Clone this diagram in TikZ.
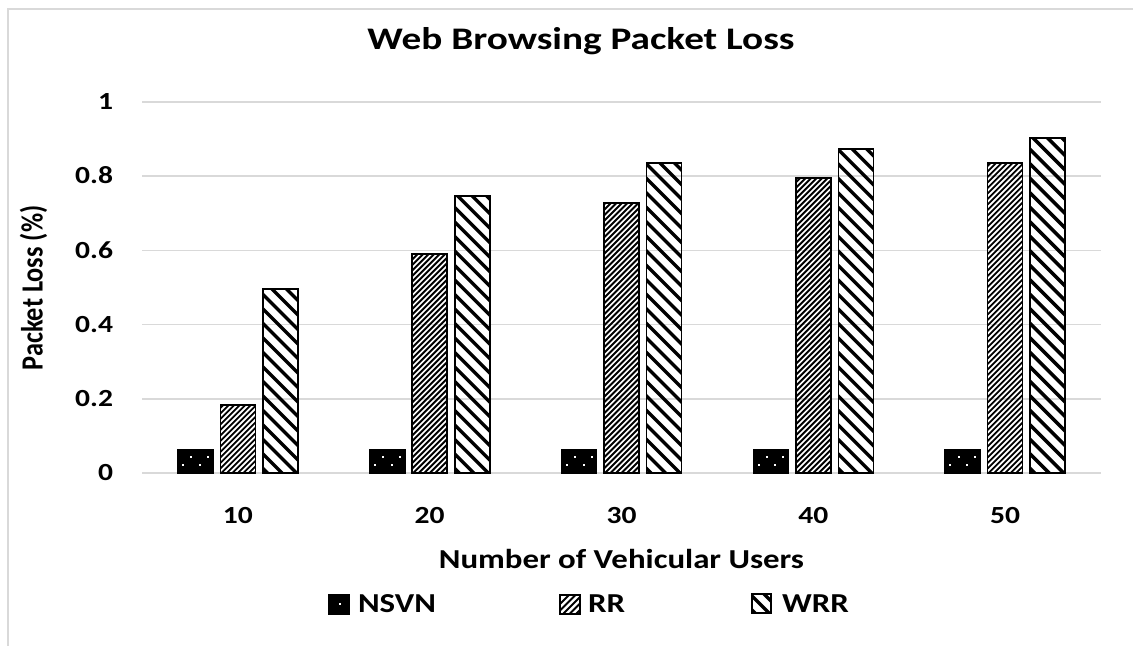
\documentclass[tikz,border=0pt]{standalone}
\usepackage{graphicx}
\usepackage{fontspec}
\setmainfont{Carlito}
\definecolor{gridgray}{HTML}{D9D9D9}
\definecolor{framegray}{HTML}{D9D9D9}
% horizontally widened text
\newcommand\wide[1]{\scalebox{1.2}[1]{#1}}
\newcommand\widetitle[1]{\scalebox{1.25}[1]{#1}}
\newcommand\tall[1]{\scalebox{1}[1.17]{#1}}
\tikzset{
  grid line/.style={draw=gridgray, line width=1.6},
  frame line/.style={draw=framegray, line width=2},
  bar edge/.style={draw=black, line width=1.6},
  fine stripe/.style={draw=black, line width=1.9},
  wide stripe/.style={draw=black, line width=3.4},
  lbl/.style={inner sep=0pt, outer sep=0pt, text=black},
  title lbl/.style={lbl, font=\fontsize{31.5}{38}\selectfont\bfseries},
  tick lbl/.style={lbl, font=\fontsize{24.7}{30}\selectfont\bfseries},
  axis lbl/.style={lbl, font=\fontsize{27.5}{33}\selectfont\bfseries},
  yaxis lbl/.style={lbl, font=\fontsize{26.4}{32}\selectfont\bfseries},
  legend lbl/.style={lbl, font=\fontsize{27.5}{33}\selectfont\bfseries},
}
\begin{document}
\begin{tikzpicture}[x=1bp, y=-1bp]
  \useasboundingbox (0,0) rectangle (1133,646);
  \fill[white] (0,0) rectangle (1133,646);

  % chart frame (top and left edges)
  \draw[frame line] (1133,9) -- (8,9) -- (8,646);

  % horizontal grid
  \foreach \v/\t in {0/0, 0.2/0.2, 0.4/0.4, 0.6/0.6, 0.8/0.8, 1/1} {
    \pgfmathsetmacro\gy{473-371*\v}
    \draw[grid line] (142,\gy) -- (1101,\gy);
    \node[tick lbl, anchor=base east] (tick-\t) at (113,\gy+7.8) {\wide{\t}};
  }

  % title
  \node[title lbl, anchor=base] (title) at (581,50) {\widetitle{Web Browsing Packet Loss}};

  % bars
  \foreach \i/\cat/\rr/\wrr in {0/10/0.183/0.496, 1/20/0.59/0.747, 2/30/0.728/0.836, 3/40/0.795/0.873, 4/50/0.836/0.903} {
    \pgfmathsetmacro\c{142+191.8*(\i+0.5)}
    \pgfmathsetmacro\tn{473-371*0.063}
    \pgfmathsetmacro\tr{473-371*\rr}
    \pgfmathsetmacro\tw{473-371*\wrr}
    % NSVN: black with white dots
    \fill[black] (\c-60,473) rectangle (\c-25,\tn);
    \foreach \dx/\dy in {13.5/7.1, 30/7.1, 5.3/15.4, 22/15.4}
      \fill[white] (\c-60+\dx-1,\tn+\dy-1) rectangle ++(2,2);
    \draw[bar edge] (\c-60,473) rectangle (\c-25,\tn);
    % RR: dense forward diagonals
    \begin{scope}
      \clip (\c-17.5,473) rectangle (\c+17.5,\tr);
      \begin{scope}[shift={(\c-17.5,473)}]
        \foreach \k in {0,...,80}
          \draw[fine stripe] (-400+5.5*\k,5) -- ++(405,-405);
      \end{scope}
    \end{scope}
    \draw[bar edge] (\c-17.5,473) rectangle (\c+17.5,\tr);
    % WRR: wide backward diagonals
    \begin{scope}
      \clip (\c+25,473) rectangle (\c+60,\tw);
      \begin{scope}[shift={(\c+25,473)}]
        \foreach \k in {0,...,31}
          \draw[wide stripe] (-5+14.5*\k,5) -- ++(-405,-405);
      \end{scope}
    \end{scope}
    \draw[bar edge] (\c+25,473) rectangle (\c+60,\tw);
    % category label
    \node[tick lbl, anchor=base] (cat-\cat) at (\c,523) {\wide{\cat}};
  }

  % axis titles
  \node[axis lbl, anchor=base] (xtitle) at (621.5,568) {\wide{Number of Vehicular Users}};
  \node[yaxis lbl, anchor=base, rotate=90] (ytitle) at (42.5,288) {\tall{Packet Loss (\%)}};

  % legend
  \fill[black] (329,595) rectangle (349,614);
  \fill[white] (338.5,602.5) rectangle ++(2,2);
  \draw[bar edge] (329,595) rectangle (349,614);
  \node[legend lbl, anchor=base west] (leg-nsvn) at (358,612) {\wide{NSVN}};

  \begin{scope}
    \clip (560,595) rectangle (580,614);
    \foreach \k in {0,...,8}
      \draw[fine stripe] (548+6.5*\k,616) -- ++(24,-24);
  \end{scope}
  \draw[bar edge] (560,595) rectangle (580,614);
  \node[legend lbl, anchor=base west] (leg-rr) at (588,612) {\wide{RR}};

  \begin{scope}
    \clip (752,594) rectangle (771,613);
    \foreach \k in {0,...,3}
      \draw[wide stripe] (757+14*\k,615) -- ++(-24,-24);
  \end{scope}
  \draw[bar edge] (752,594) rectangle (771,613);
  \node[legend lbl, anchor=base west] (leg-wrr) at (782,612) {\wide{WRR}};
\end{tikzpicture}
\end{document}
